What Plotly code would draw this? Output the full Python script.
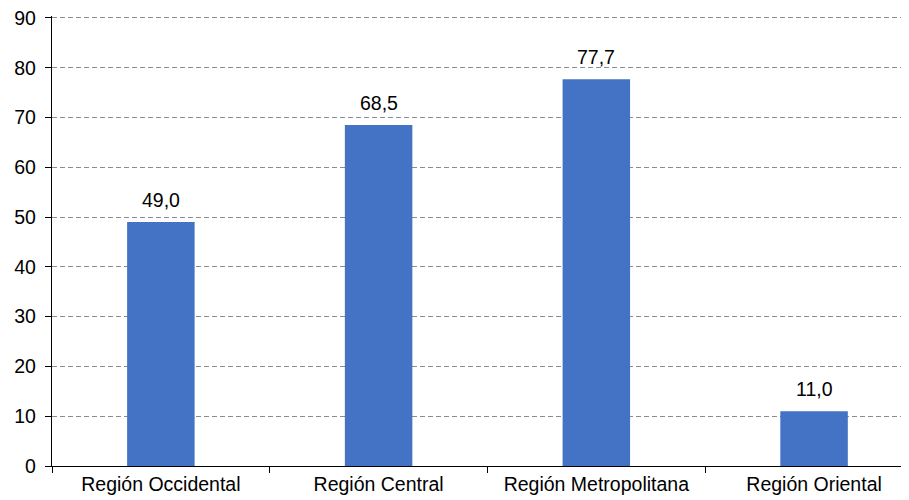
import plotly.graph_objects as go

categories = ["Región Occidental", "Región Central", "Región Metropolitana", "Región Oriental"]
values = [49.0, 68.5, 77.7, 11.0]
y_ticks = [0, 10, 20, 30, 40, 50, 60, 70, 80, 90]

FONT = "Liberation Sans, Arial, sans-serif"
FS = 19.5

fig = go.Figure()
fig.add_trace(go.Bar(
    x=categories, y=values,
    marker=dict(color="#4472C4", line=dict(width=0)),
    width=0.31,
    hoverinfo="skip",
))

for c, v in zip(categories, values):
    fig.add_annotation(
        x=c, y=v, xref="x", yref="y",
        text=f"{v:.1f}".replace(".", ","),
        showarrow=False, yanchor="bottom", yshift=9,
        font=dict(family=FONT, size=FS, color="#000000"),
    )

# page body has an 8px default margin; compensate so the plot area matches
fig.update_layout(
    width=901, height=492,
    margin=dict(l=44, r=0, t=8, b=34),
    paper_bgcolor="white", plot_bgcolor="white",
    separators=",.",
    showlegend=False,
    font=dict(family=FONT, size=FS, color="#000000"),
)
fig.update_xaxes(
    range=[-0.5, 3.436], automargin=False,
    showline=True, linecolor="#000000", linewidth=1.3,
    ticks="outside", ticklen=6, tickcolor="#000000", tickwidth=1.3,
    tickson="boundaries", showgrid=False,
    tickfont=dict(size=FS), ticklabeloverflow="allow",
)
fig.update_yaxes(
    range=[0, 90.4], tickvals=y_ticks, automargin=False,
    showline=True, linecolor="#000000", linewidth=1.3,
    ticks="outside", ticklen=6, tickcolor="#000000", tickwidth=1.3,
    showgrid=True, gridcolor="#8c8c8c", griddash="5px,3px", gridwidth=1,
    zeroline=False, ticklabelstandoff=5,
    tickfont=dict(size=FS), ticklabeloverflow="allow",
)

fig.write_html("out.html")
